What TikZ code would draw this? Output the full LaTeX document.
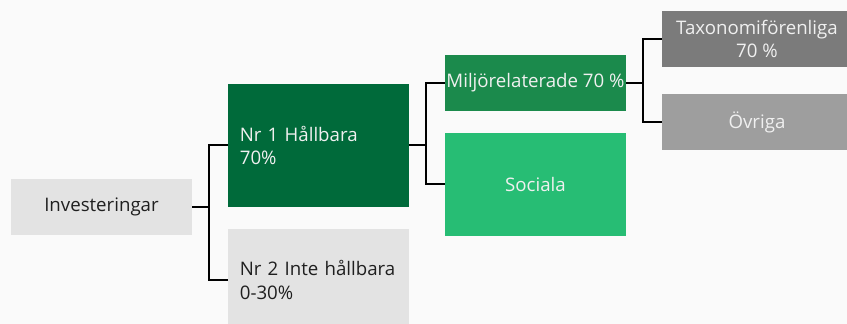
\documentclass[tikz,border=0pt]{standalone}
\usepackage{fontspec}
\setmainfont{Open Sans}
\definecolor{bggrey}{HTML}{FAFAFA}
\definecolor{lightgrey}{HTML}{E3E3E3}
\definecolor{darkgreen}{HTML}{006A3A}
\definecolor{midgreen}{HTML}{1B8A4C}
\definecolor{lightgreen}{HTML}{27BD74}
\definecolor{taxgrey}{HTML}{7B7B7B}
\definecolor{restgrey}{HTML}{9E9E9E}
\tikzset{ every node/.style={rectangle,inner sep=0pt,minimum width=135.75pt,font=\fontsize{14}{17.5}\selectfont,align=center},
  greybox/.style={fill=lightgrey,text=black!88},
  leftbox/.style={align=left,text width=118pt,inner xsep=8.75pt},
  whitetext/.style={text=white!94!black},
  link/.style={line width=1.5pt}}

\begin{document}
\begin{tikzpicture}[x=0.75pt,y=-0.75pt]
  \fill[bggrey] (0,0) rectangle (847,324);
  \useasboundingbox (0,0) rectangle (847,324);

  \node[greybox,minimum height=42pt] (inv) at (101.5,207) {Investeringar};
  \node[leftbox,fill=darkgreen,whitetext,minimum height=92.25pt] (nr1) at (318.5,145.5) {Nr 1 Hållbara\\70\%};
  \node[leftbox,greybox,minimum height=76.5pt] (nr2) at (318.5,280) {Nr 2 Inte hållbara\\0-30\%};
  \node[fill=midgreen,whitetext,minimum height=42pt] (milj) at (535.5,83) {Miljörelaterade 70 \%};
  \node[fill=lightgreen,whitetext,minimum height=77.25pt] (soc) at (535.5,184.5) {Sociala};
  \node[fill=taxgrey,whitetext,minimum width=142.5pt,minimum height=42pt] (tax) at (757,39) {Taxonomiförenliga\\70 \%};
  \node[fill=restgrey,whitetext,minimum width=142.5pt,minimum height=42pt] (ovr) at (757,122) {Övriga};

  % joints of the brackets
  \coordinate (ja) at ([xshift=12.75pt]inv.east);
  \coordinate (jb) at ([xshift=12.75pt]nr1.east);
  \coordinate (jc) at ([xshift=12.75pt]milj.east);

  \foreach \from/\j/\to in {inv/ja/nr1, inv/ja/nr2, nr1/jb/milj, nr1/jb/soc, milj/jc/tax, milj/jc/ovr}
	\draw[link] (\from.east) -- (\j) |- (\to.west);
\end{tikzpicture}
\end{document}
